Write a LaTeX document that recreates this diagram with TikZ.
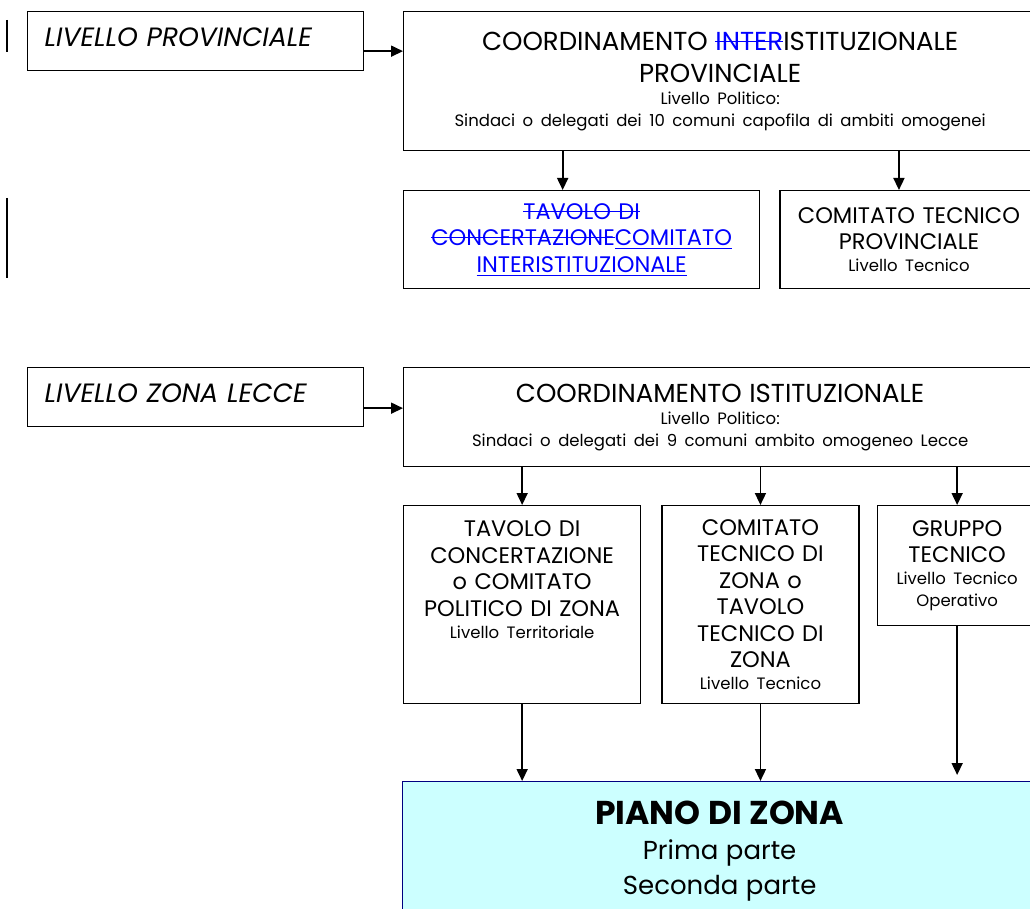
\documentclass[tikz,border=0pt]{standalone}
\usepackage{fontspec}
\setmainfont{Poppins}
\usetikzlibrary{arrows.meta,positioning}

\newcommand{\titlefont}{\fontsize{26}{32}\selectfont}
\newcommand{\boxfont}{\fontsize{22.5}{26.5}\selectfont}
\newcommand{\notefont}{\fontsize{16.5}{22}\selectfont}
\newcommand{\strk}[1]{\leavevmode\setbox0\hbox{#1}\rlap{\rule[0.33em]{\wd0}{1pt}}\box0}
\newcommand{\undl}[1]{\leavevmode\setbox0\hbox{#1}\rlap{\rule[-0.17em]{\wd0}{1pt}}\box0}
\definecolor{pianofill}{HTML}{CCFFFF}
\definecolor{pianoline}{HTML}{000080}

\begin{document}
\begin{tikzpicture}[x=1pt,y=-1pt,line width=1.3pt,>={Triangle[length=12pt,width=11pt]},
  level/.style={draw,anchor=north west,minimum width=336pt,minimum height=59pt,inner sep=0pt,
    text width=302pt,align=left,font=\fontsize{26.5}{30}\selectfont\itshape},
  box/.style={draw,anchor=north west,align=center,inner sep=0pt,font=\boxfont},
  piano/.style={box,fill=pianofill,draw=pianoline},
  link/.style={->,line width=1.7pt}]
  \useasboundingbox (0,0) rectangle (1030,909);
  \clip (0,0) rectangle (1030,909);

  \node[level] (liv_p) at (27,11) {LIVELLO PROVINCIALE\par\vspace{-21pt}\null};
  \node[box,minimum width=633pt,minimum height=139pt,text width=625pt] (coord_p) at (403,11)
    {{\titlefont COORDINAMENTO \textcolor{blue}{\strk{INTER}}ISTITUZIONALE\\PROVINCIALE\par}
     {\notefont Livello Politico:\\Sindaci o delegati dei 10 comuni capofila di ambiti omogenei\par}};
  \node[box,minimum width=356pt,minimum height=98pt,text width=345pt] (tav_p) at (403,190)
    {\textcolor{blue}{\strk{TAVOLO DI}\\\strk{CONCERTAZIONE}\undl{COMITATO}\\\undl{INTERISTITUZIONALE}}};
  \node[box,minimum width=258pt,minimum height=98pt,text width=250pt] (tec_p) [right=19pt of tav_p]
    {COMITATO TECNICO\\PROVINCIALE\par{\notefont Livello Tecnico\par}};

  \node[level] (liv_z) at (27,367) {LIVELLO ZONA LECCE\par\vspace{-21pt}\null};
  \node[box,minimum width=633pt,minimum height=99pt,text width=625pt] (coord_z) at (403,367)
    {{\titlefont COORDINAMENTO ISTITUZIONALE\par}
     {\notefont Livello Politico:\\Sindaci o delegati dei 9 comuni ambito omogeneo Lecce\par}};
  \node[box,minimum width=237pt,minimum height=198pt,text width=230pt] (tavolo) at (403,505)
    {TAVOLO DI\\CONCERTAZIONE\\o COMITATO\\POLITICO DI ZONA\par
     {\notefont Livello Territoriale\par}\vspace{24pt}\null};
  \node[box,minimum width=197pt,minimum height=198pt,text width=192pt] (comitato) [right=20pt of tavolo]
    {COMITATO\\TECNICO DI\\ZONA o\\TAVOLO\\TECNICO DI\\ZONA\par{\notefont Livello Tecnico\par}};
  \node[box,minimum width=159pt,minimum height=120pt,text width=155pt] (gruppo) at (877,505)
    {GRUPPO\\TECNICO\par{\notefont Livello Tecnico\\Operativo\par}};
  \node[piano,minimum width=634pt,minimum height=138pt,text width=625pt] (piano) at (402,781)
    {{\fontsize{33}{36}\selectfont\bfseries PIANO DI ZONA\par}
     {\fontsize{26}{35}\selectfont Prima parte\\Seconda parte\par}};

  \draw[line width=2pt] (7,20) -- (7,52) (7,198) -- (7,278);

  \draw[link] ([yshift=-10pt]liv_p.east) -- ([yshift=-10pt]liv_p.east -| coord_p.west);
  \draw[link] ([yshift=-11pt]liv_z.east) -- ([yshift=-11pt]liv_z.east -| coord_z.west);
  \draw[link] ([xshift=-19pt]tav_p.north |- coord_p.south) -- ([xshift=-19pt]tav_p.north);
  \draw[link] ([xshift=-10pt]tec_p.north |- coord_p.south) -- ([xshift=-10pt]tec_p.north);
  \foreach \sub in {tavolo,comitato,gruppo}
    \draw[link] (\sub.north |- coord_z.south) -- (\sub.north);
  \draw[link] (tavolo.south) -- (tavolo.south |- piano.north);
  \draw[link] (comitato.south) -- (comitato.south |- piano.north);
  \draw[link] (gruppo.south) -- ([yshift=6pt]gruppo.south |- piano.north);
\end{tikzpicture}
\end{document}
